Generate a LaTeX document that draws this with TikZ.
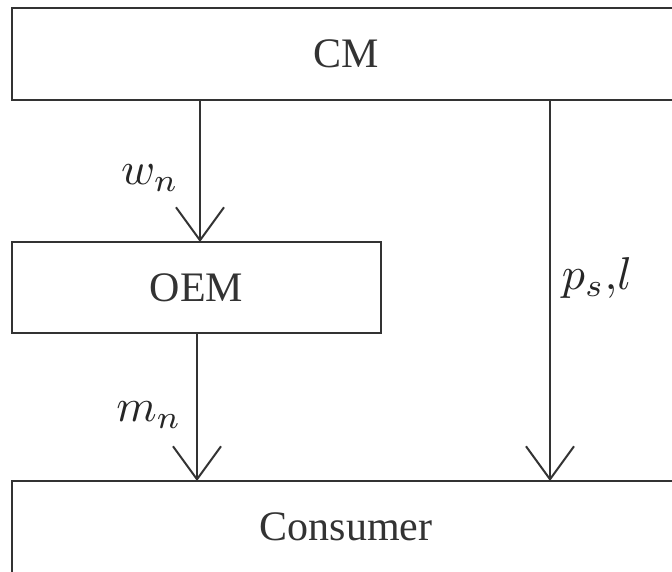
\RequirePackage{fix-cm}
\documentclass[tikz,border=0pt]{standalone}
\usepackage{graphicx}
\usepackage{fontspec}
\setmainfont{Liberation Serif}
\usetikzlibrary{arrows.meta}
\newcommand{\bigmath}[1]{\scalebox{4.6}{$#1$}}
\begin{document}
\begin{tikzpicture}[x=1pt,y=-1pt,
  box/.style={draw=black!80, line width=2pt, inner sep=0pt, outer sep=0pt, anchor=north west,
    font=\fontsize{42}{50}\selectfont, text=black!80},
  lbl/.style={text=black!85, inner sep=0pt},
  flow/.style={draw=black!80, line width=2pt, -{Straight Barb[length=33pt,width=48pt]}}]
\path[use as bounding box, clip] (0,0) rectangle (672,572);
\node[box, minimum width=668pt, minimum height=92pt] (cm) at (12,8) {CM};
\node[box, minimum width=369pt, minimum height=91pt] (oem) at (12,242) {OEM};
\node[box, minimum width=668pt, minimum height=92pt] (con) at (12,481) {Consumer};
\coordinate (a1) at (200,100);
\coordinate (a2) at (550,100);
\coordinate (a3) at (197,333);
\draw[flow] (a1) -- (a1 |- oem.north);
\draw[flow] (a3) -- (a3 |- con.north);
\draw[flow] (a2) -- (a2 |- con.north);
\node[lbl] (wn) at (150,178) {\bigmath{w_n}};
\node[lbl] (mn) at (149,415) {\bigmath{m_n}};
\node[lbl] (ps) at (597,278) {\bigmath{p_s{,}l}};
\end{tikzpicture}
\end{document}
